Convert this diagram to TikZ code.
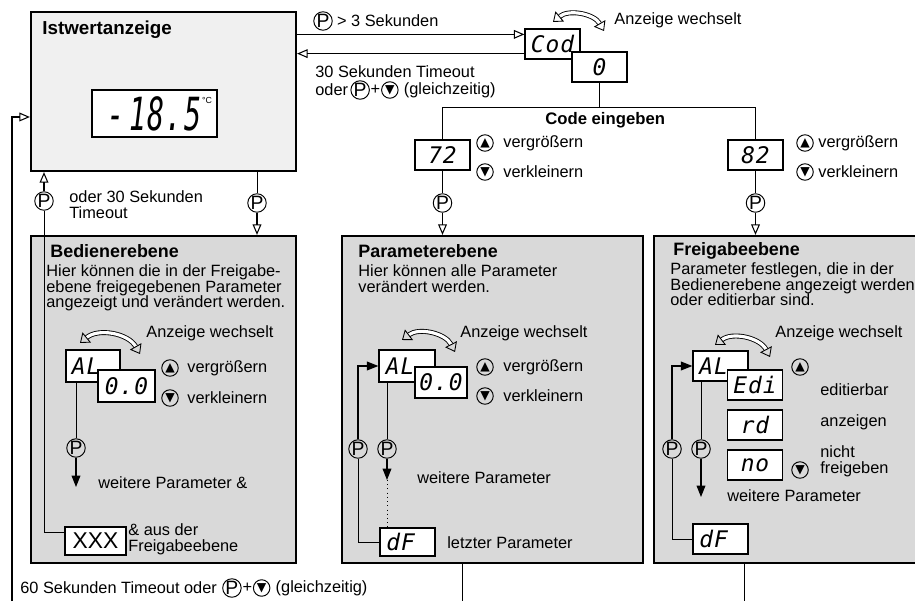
\documentclass[tikz,border=0pt]{standalone}
\usepackage{fontspec}
\setmainfont{Liberation Sans}
\newfontfamily\segfont[LetterSpace=4]{DejaVu Sans Mono}
\newfontfamily\symfont{DejaVu Sans}
\usetikzlibrary{arrows.meta,positioning}

\tikzset{
  panel/.style={draw, line width=1.3pt, fill=gray!30, inner sep=0pt},
  lcd/.style={draw, line width=0.7pt, fill=white, inner sep=0pt, minimum width=1.1cm, minimum height=0.6cm, font=\segfont\itshape\fontsize{13}{13}\selectfont},
  txt/.style={inner sep=0pt, anchor=west, align=left, font=\fontsize{9.3}{9}\selectfont},
  ttl/.style={inner sep=0pt, anchor=west, font=\bfseries\fontsize{10.2}{10}\selectfont},
  pkey/.style={circle, draw, line width=0.55pt, inner sep=0pt, minimum size=0.33cm, font=\fontsize{11}{11}\selectfont},
  ukey/.style={pkey, font=\symfont\fontsize{7}{7}\selectfont},
  dkey/.style={pkey, font=\symfont\fontsize{7}{7}\selectfont},
  flow/.style={-{Triangle[open, length=6pt, width=5pt]}, line width=0.6pt},
  iflow/.style={-{Triangle[length=6.5pt, width=5pt]}, line width=0.6pt},
  wechsel/.style={double, double distance=1.8pt, line width=0.5pt, {Triangle[open, length=5pt, width=7.5pt]}-{Triangle[open, length=5pt, width=7.5pt]}},
}

\begin{document}
\begin{tikzpicture}[x=0.02cm, y=-0.02cm]
  \path[use as bounding box, clip] (0,0) rectangle (915,601);

  % Istwertanzeige
  \node[panel, fill=gray!12, minimum width=5.3cm, minimum height=3.18cm] (ist) at (163.5,91.5) {};
  \node[ttl, font=\bfseries\fontsize{10.7}{11}\selectfont] (istttl) at (42,30) {Istwertanzeige};
  \node[lcd, minimum width=2.5cm, minimum height=0.94cm, font=\segfont\itshape\fontsize{26}{26}\selectfont] (istwert) at (154.5,113.5) {\scalebox{0.62}[1]{-\,18.5}\hspace{0.25cm}};
  \node[inner sep=0pt, font=\fontsize{5}{5}\selectfont] (grad) at (207,100) {°C};

  % Ebenen
  \node[panel, minimum width=5.3cm, minimum height=6.54cm] (bed) at (163.5,399.5) {};
  \node[panel, minimum width=6.02cm, minimum height=6.54cm] (par) at (492.5,399.5) {};
  \node[panel, minimum width=5.6cm, minimum height=6.54cm, anchor=west] (frei) at (653,399.5) {};

  % Code
  \node[lcd] (cod) at (552.5,44) {Cod};
  \node[lcd] (code) at (599.5,67) {0};
  \draw[wechsel] (553,22) to[bend left=50] (604,31);
  \node[txt] (codw) at (614,20) {Anzeige wechselt};

  \coordinate (codin) at ([yshift=-0.12cm]cod.north west);
  \coordinate (codout) at ([yshift=0.12cm]cod.south west);
  \draw[flow] (codin -| ist.east) -- (codin);
  \draw[flow] (codout) -- (codout -| ist.east);

  \node[pkey] (kp1) at (323,21) {P};
  \node[txt, right=0.08cm of kp1] (sek3) {> 3 Sekunden};
  \node[txt] (tmo1) at (315,72) {30 Sekunden Timeout};
  \node[txt] (tmo2) at (315,90) {oder};
  \node[pkey, right=0.04cm of tmo2] (kp2) {P};
  \node[txt, right=0.01cm of kp2] (plus2) {+};
  \node[dkey, right=0.01cm of plus2] (kd2) {▼};
  \node[txt, right=0.1cm of kd2] (gz2) {(gleichzeitig)};

  % Code eingeben
  \draw (code.south) -- ++(0,25) coordinate (cj);
  \node[lcd] (c72) at (442.5,155) {72};
  \node[lcd] (c82) at (755.5,155) {82};
  \draw (c72.north) |- (cj) -| (c82.north);
  \node[ttl, font=\bfseries\fontsize{9.5}{10}\selectfont] (cein) at (545,120) {Code eingeben};
  \node[ukey] (u72) at (485,143) {▲};
  \node[txt] (vg72) at (503,143) {vergrößern};
  \node[dkey] (d72) at (485,172) {▼};
  \node[txt] (vk72) at (503,172) {verkleinern};
  \node[ukey] (u82) at (805,143) {▲};
  \node[txt] (vg82) at (818,143) {vergrößern};
  \node[dkey] (d82) at (805,172) {▼};
  \node[txt] (vk82) at (818,172) {verkleinern};
  \node[pkey] (kp72) at (442.5,203) {P};
  \draw (c72.south) -- (kp72);
  \draw[flow] (kp72) -- (kp72 |- par.north);
  \node[pkey] (kp82) at (755.5,203) {P};
  \draw (c82.south) -- (kp82);
  \draw[flow] (kp82) -- (kp82 |- frei.north);

  % Istwert <-> Bedienerebene
  \node[pkey] (kpb) at (257,203) {P};
  \draw (kpb |- ist.south) -- (kpb);
  \draw[flow] (kpb) -- (kpb |- bed.north);
  \node[pkey] (kpz) at (44,201) {P};
  \node[txt] (tmo3) at (69,205) {oder 30 Sekunden\\Timeout};

  % Bedienerebene
  \node[ttl] (bedttl) at (50,251) {Bedienerebene};
  \node[txt, anchor=north west] (bedtxt) at (46,264) {Hier können die in der Freigabe-\\ebene freigegebenen Parameter\\angezeigt und verändert werden.};
  \draw[wechsel] (80,343) to[bend left=50] (140,354);
  \node[txt] (bedw) at (146,333) {Anzeige wechselt};
  \node[lcd, minimum width=1.08cm, minimum height=0.64cm] (albed) at (93,366) {AL\phantom{0}};
  \node[lcd, minimum width=1.14cm, minimum height=0.64cm] (wbed) at (126.5,386) {0.0};
  \node[ukey] (ubed) at (170,368) {▲};
  \node[txt] (vgbed) at (187,368) {vergrößern};
  \node[dkey] (dbed) at (170,398) {▼};
  \node[txt] (vkbed) at (187,398) {verkleinern};
  \node[pkey] (kpbed) at (76,448) {P};
  \coordinate (wbend) at (76,487);
  \draw (kpbed |- albed.south) -- (kpbed);
  \draw[iflow] (kpbed) -- (wbend);
  \node[txt] (wpbed) at (98,483) {weitere Parameter \&};
  \node[lcd, minimum width=1.22cm, minimum height=0.56cm, font=\fontsize{13}{13}\selectfont] (xxx) at (95.5,541) {XXX};
  \node[txt] (ausfrei) at (128,539) {\& aus der\\Freigabeebene};
  \coordinate (xin) at ([yshift=0.18cm]xxx.west);
  \draw (xin) -| (kpz);
  \draw[flow] (kpz) -- (kpz |- ist.south);

  % 60 Sekunden zurueck
  \coordinate (ltief) at (12,601);
  \coordinate (iin) at ([yshift=-0.51cm]ist.west);
  \draw[flow] (ltief) |- (iin);
  \node[txt] (tmo4) at (20,588) {60 Sekunden Timeout oder};
  \node[pkey, right=0.1cm of tmo4] (kp4) {P};
  \node[txt, right=0.01cm of kp4] (plus4) {+};
  \node[dkey, right=0.01cm of plus4] (kd4) {▼};
  \node[txt, right=0.1cm of kd4] (gz4) {(gleichzeitig)};
  \coordinate (pbot) at (462,601);
  \draw (pbot |- par.south) -- (pbot);
  \coordinate (fbot) at (744,601);
  \draw (fbot |- frei.south) -- (fbot);

  % Parameterebene
  \node[ttl] (parttl) at (358,251) {Parameterebene};
  \node[txt, anchor=north west] (partxt) at (358,264) {Hier können alle Parameter\\verändert werden.};
  \draw[wechsel] (402,340) to[bend left=50] (455,352);
  \node[txt] (parw) at (460,333) {Anzeige wechselt};
  \node[lcd, minimum width=1.12cm, minimum height=0.64cm] (alpar) at (407,366) {AL\phantom{0}};
  \node[lcd, minimum width=1.04cm, minimum height=0.62cm] (wpar) at (441,382.5) {0.0};
  \node[ukey] (upar) at (485,367) {▲};
  \node[txt] (vgpar) at (503,367) {vergrößern};
  \node[dkey] (dpar) at (485,396) {▼};
  \node[txt] (vkpar) at (503,396) {verkleinern};
  \node[lcd, minimum width=1.1cm, minimum height=0.56cm] (dfpar) at (407.5,542) {dF\phantom{0}};
  \node[pkey] (kppar1) at (358,449) {P};
  \node[pkey] (kppar2) at (387,449) {P};
  \draw (dfpar.west) -| (kppar1);
  \draw[iflow] (kppar1) |- (alpar.west);
  \draw (kppar2 |- alpar.south) -- (kppar2);
  \coordinate (wpend) at (387,480);
  \draw[iflow] (kppar2) -- (wpend);
  \draw[dotted] (wpend) -- (wpend |- dfpar.north);
  \node[txt] (wppar) at (417,478) {weitere Parameter};
  \node[txt] (lpar) at (447,543) {letzter Parameter};

  % Freigabeebene
  \node[ttl] (freittl) at (673,251) {Freigabeebene};
  \node[txt, anchor=north west] (freitxt) at (670,262) {Parameter festlegen, die in der\\Bedienerebene angezeigt werden\\oder editierbar sind.};
  \draw[wechsel] (715,345) to[bend left=50] (770,357);
  \node[txt] (freiw) at (775,333) {Anzeige wechselt};
  \node[lcd] (alfrei) at (720.5,366) {AL\phantom{0}};
  \node[lcd] (edifrei) at (755,385) {Edi};
  \node[lcd] (rdfrei) at (755,425) {rd};
  \node[lcd] (nofrei) at (755,465) {no};
  \node[ukey] (ufrei) at (800,367) {▲};
  \node[dkey] (dfrei) at (800,470) {▼};
  \node[txt] (edtxt) at (820,390) {editierbar};
  \node[txt] (rdtxt) at (820,422) {anzeigen};
  \node[txt] (notxt) at (820,461) {nicht\\freigeben};
  \node[lcd] (dffrei) at (720.5,539) {dF\phantom{0}};
  \node[pkey] (kpfrei1) at (672,449) {P};
  \node[pkey] (kpfrei2) at (701,449) {P};
  \draw (dffrei.west) -| (kpfrei1);
  \draw[iflow] (kpfrei1) |- (alfrei.west);
  \draw (kpfrei2 |- alfrei.south) -- (kpfrei2);
  \coordinate (wfend) at (701,497);
  \draw[iflow] (kpfrei2) -- (wfend);
  \node[txt] (wpfrei) at (727,496) {weitere Parameter};
\end{tikzpicture}
\end{document}
